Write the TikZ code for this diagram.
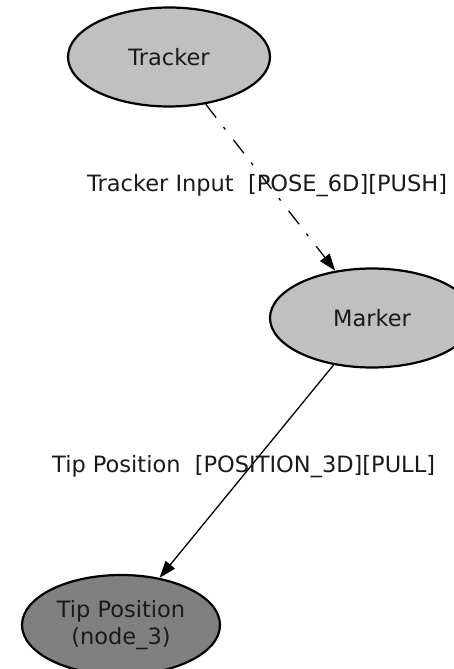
\documentclass[tikz,border=0pt]{standalone}
\usepackage{fontspec}
\setmainfont{DejaVu Sans}
\usetikzlibrary{shapes.geometric,arrows.meta}
\definecolor{lightfill}{HTML}{C0C0C0}
\definecolor{darkfill}{HTML}{808080}
\definecolor{txt}{HTML}{1A1A1A}
\begin{document}
\begin{tikzpicture}[x=1pt,y=1pt,
  every node/.style={font=\fontsize{22.5}{27}\selectfont, text=txt},
  ent/.style={ellipse, draw=black, line width=2.2pt, inner sep=0pt},
  conn/.style={draw=black, line width=1.3pt, -{Triangle[length=17pt,width=12pt]}},
  dashdot/.style={dash pattern=on 17pt off 12pt on 3pt off 13pt},
  lbl/.style={anchor=west, inner sep=0pt}]
\useasboundingbox (0,0) rectangle (454,669);
\begin{scope}
\clip (0,0) rectangle (454,669);
\node[ent, fill=lightfill, minimum width=202pt, minimum height=99pt] (tracker) at (169,612) {Tracker};
\node[ent, fill=lightfill, minimum width=204pt, minimum height=99pt] (marker) at (372,351) {Marker};
\node[ent, fill=darkfill, minimum width=198pt, minimum height=100pt, align=center] (tip) at (121,44) {Tip Position\\(node\_3)};
\draw[conn, dashdot] (tracker) -- (marker);
\draw[conn] (marker) -- (tip);
\end{scope}
\node[lbl] (l1) at (87,483) {Tracker Input\ \ [POSE\_6D][PUSH]};
\node[lbl] (l2) at (52,202) {Tip Position\ \ [POSITION\_3D][PULL]};
\end{tikzpicture}
\end{document}
